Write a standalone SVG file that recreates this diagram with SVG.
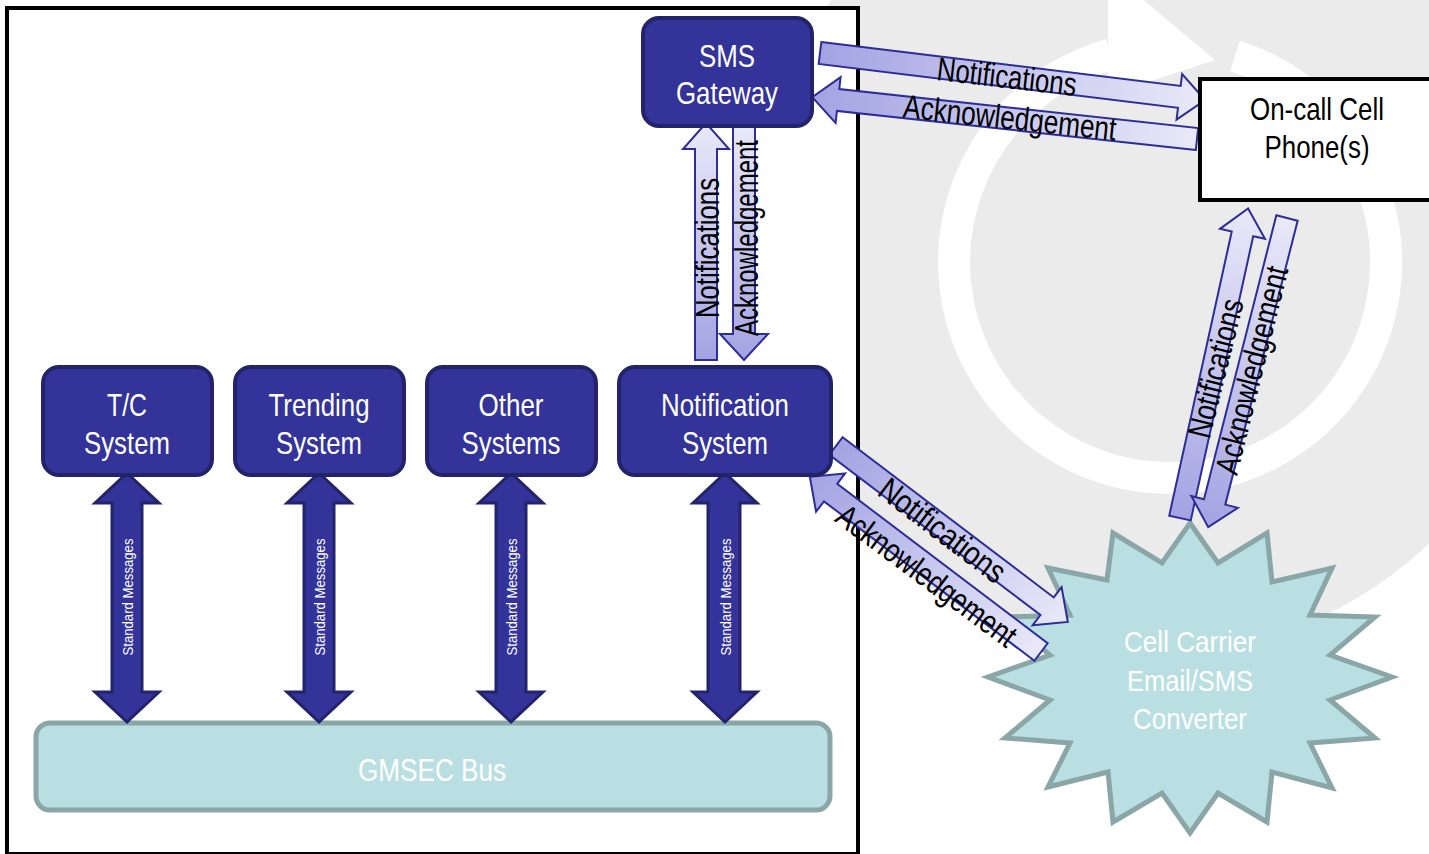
<svg xmlns="http://www.w3.org/2000/svg" width="1429" height="854" viewBox="0 0 1429 854">
<defs>
<style>
.node rect{fill:#333399;stroke:#23236a;stroke-width:4}
.t{font-family:"Liberation Sans Narrow","Liberation Sans",Arial,sans-serif;text-anchor:middle}
.nt{font-size:32px;fill:#ffffff}
.lab{font-size:33px;fill:#000000}
.sm{font-size:15px;fill:#ffffff}
.std{fill:#333399;stroke:#23236a;stroke-width:3}
.la{stroke:#2d2d96;stroke-width:2;stroke-linejoin:miter}
.ln{fill:url(#gN)}
.lk{fill:url(#gA)}
</style>
<linearGradient id="gN" x1="0" y1="0" x2="1" y2="0"><stop offset="0" stop-color="#a3a3e3"/><stop offset="1" stop-color="#e9e9f9"/></linearGradient>
<linearGradient id="gA" x1="0" y1="0" x2="1" y2="0"><stop offset="0" stop-color="#e9e9f9"/><stop offset="1" stop-color="#a3a3e3"/></linearGradient>
</defs>
<rect x="0" y="0" width="1429" height="854" fill="#ffffff"/>
<g id="background">
<circle cx="1150" cy="250" r="405" fill="#ebebeb"/>
<path d="M 1235 56 A 216 216 0 1 1 1110.5 54.4" fill="none" stroke="#ffffff" stroke-width="32"/>
<polygon points="1108,-30 1215,60 1108,95" fill="#ffffff"/>
</g>
<rect id="panel" x="7" y="8" width="851" height="846" fill="#ffffff" stroke="#000000" stroke-width="4"/>

<g id="gmsec-bus">
<rect x="36" y="723" width="794" height="87" rx="14" fill="#b9dfe2" stroke="#8aa6a6" stroke-width="5"/>
<text class="t nt" x="432" y="781" textLength="148" lengthAdjust="spacingAndGlyphs">GMSEC Bus</text>
</g>

<g id="cell-carrier">
<polygon points="1190,523 1218,563 1267,533 1272,582 1332,568 1310,615 1375,617 1330,655 1392,677 1330,700 1375,738 1310,743 1332,788 1272,772 1267,822 1218,793 1190,833 1162,793 1113,822 1108,772 1048,787 1070,743 1005,738 1050,700 988,677 1050,655 1005,617 1070,615 1048,568 1107,580 1113,533 1162,563" fill="#b9dfe2" stroke="#8aa6a6" stroke-width="5" stroke-linejoin="miter"/>
<text class="t" x="1190" y="652" font-size="30" fill="#ffffff" textLength="132" lengthAdjust="spacingAndGlyphs">Cell Carrier</text>
<text class="t" x="1190" y="691" font-size="30" fill="#ffffff" textLength="126" lengthAdjust="spacingAndGlyphs">Email/SMS</text>
<text class="t" x="1190" y="729" font-size="30" fill="#ffffff" textLength="114" lengthAdjust="spacingAndGlyphs">Converter</text>
</g>

<g id="connectors">
<g id="std-arrows">
<polygon class="std" points="127,473 159,503 142,503 142,692 159,692 127,722 95,692 112,692 112,503 95,503"/>
<polygon class="std" points="319,473 351,503 334,503 334,692 351,692 319,722 287,692 304,692 304,503 287,503"/>
<polygon class="std" points="511,473 543,503 526,503 526,692 543,692 511,722 479,692 496,692 496,503 479,503"/>
<polygon class="std" points="725,473 757,503 740,503 740,692 757,692 725,722 693,692 708,692 708,503 693,503"/>
<text class="t sm" transform="translate(128,597) rotate(-90)" y="5" textLength="117" lengthAdjust="spacingAndGlyphs">Standard Messages</text>
<text class="t sm" transform="translate(320,597) rotate(-90)" y="5" textLength="117" lengthAdjust="spacingAndGlyphs">Standard Messages</text>
<text class="t sm" transform="translate(512,597) rotate(-90)" y="5" textLength="117" lengthAdjust="spacingAndGlyphs">Standard Messages</text>
<text class="t sm" transform="translate(726,597) rotate(-90)" y="5" textLength="117" lengthAdjust="spacingAndGlyphs">Standard Messages</text>
</g>
<g id="sms-vertical">
<polygon class="la ln" transform="translate(706,360) rotate(-90)" points="0,-11 211,-11 211,-23 237,0 211,23 211,11 0,11"/>
<polygon class="la lk" transform="translate(744,125) rotate(90)" points="0,-11 209,-11 209,-24 235,0 209,24 209,11 0,11"/>
<text class="t lab" transform="translate(707,248) rotate(-90)" y="12" textLength="140" lengthAdjust="spacingAndGlyphs">Notifications</text>
<text class="t lab" transform="translate(746,238) rotate(-90)" y="12" textLength="196" lengthAdjust="spacingAndGlyphs">Acknowledgement</text>
</g>
<g id="sms-phone">
<polygon class="la ln" transform="translate(820,53) rotate(6.96)" points="0,-11 362,-11 362,-23 388,0 362,23 362,11 0,11"/>
<polygon class="la lk" transform="translate(1197,139) rotate(186.2)" points="0,-11 361,-11 361,-23 387,0 361,23 361,11 0,11"/>
<text class="t lab" transform="translate(1007,76) rotate(6.5)" y="12" textLength="140" lengthAdjust="spacingAndGlyphs">Notifications</text>
<text class="t lab" transform="translate(1010,117) rotate(6.2)" y="12" textLength="214" lengthAdjust="spacingAndGlyphs">Acknowledgement</text>
</g>
<g id="notif-carrier">
<polygon class="la ln" transform="translate(836,446) rotate(37.2)" points="0,-11 265,-11 265,-24 291,0 265,24 265,11 0,11"/>
<polygon class="la lk" transform="translate(1041,652) rotate(217.15)" points="0,-11 264,-11 264,-24 290,0 264,24 264,11 0,11"/>
<text class="t lab" transform="translate(943,530) rotate(37.2)" y="12" textLength="150" lengthAdjust="spacingAndGlyphs">Notifications</text>
<text class="t lab" transform="translate(927,575) rotate(36.5)" y="12" textLength="215" lengthAdjust="spacingAndGlyphs">Acknowledgement</text>
</g>
<g id="carrier-phone">
<polygon class="la ln" transform="translate(1180,518) rotate(-77.6)" points="0,-11 291,-11 291,-23 317,0 291,23 291,11 0,11"/>
<polygon class="la lk" transform="translate(1287,218) rotate(104.3)" points="0,-11 293,-11 293,-24 319,0 293,24 293,11 0,11"/>
<text class="t lab" transform="translate(1215,368) rotate(-76)" y="12" textLength="142" lengthAdjust="spacingAndGlyphs">Notifications</text>
<text class="t lab" transform="translate(1251,370) rotate(-76)" y="12" textLength="213" lengthAdjust="spacingAndGlyphs">Acknowledgement</text>
</g>
</g>

<g id="tc-system" class="node">
<rect x="43" y="367" width="169" height="108" rx="16"/>
<text class="t nt" x="127" y="416" textLength="40" lengthAdjust="spacingAndGlyphs">T/C</text>
<text class="t nt" x="127" y="454" textLength="86" lengthAdjust="spacingAndGlyphs">System</text>
</g>
<g id="trending-system" class="node">
<rect x="235" y="367" width="169" height="108" rx="16"/>
<text class="t nt" x="319" y="416" textLength="101" lengthAdjust="spacingAndGlyphs">Trending</text>
<text class="t nt" x="319" y="454" textLength="86" lengthAdjust="spacingAndGlyphs">System</text>
</g>
<g id="other-systems" class="node">
<rect x="427" y="367" width="169" height="108" rx="16"/>
<text class="t nt" x="511" y="416" textLength="65" lengthAdjust="spacingAndGlyphs">Other</text>
<text class="t nt" x="511" y="454" textLength="99" lengthAdjust="spacingAndGlyphs">Systems</text>
</g>
<g id="notification-system" class="node">
<rect x="619" y="367" width="212" height="108" rx="16"/>
<text class="t nt" x="725" y="416" textLength="128" lengthAdjust="spacingAndGlyphs">Notification</text>
<text class="t nt" x="725" y="454" textLength="86" lengthAdjust="spacingAndGlyphs">System</text>
</g>
<g id="sms-gateway" class="node">
<rect x="643" y="18" width="169" height="108" rx="16"/>
<text class="t nt" x="727" y="67" textLength="56" lengthAdjust="spacingAndGlyphs">SMS</text>
<text class="t nt" x="727" y="104" textLength="102" lengthAdjust="spacingAndGlyphs">Gateway</text>
</g>
<g id="cell-phone">
<rect x="1200" y="79" width="240" height="121" fill="#ffffff" stroke="#000000" stroke-width="4"/>
<text class="t" x="1317" y="120" font-size="32" fill="#000000" textLength="134" lengthAdjust="spacingAndGlyphs">On-call Cell</text>
<text class="t" x="1317" y="158" font-size="32" fill="#000000" textLength="105" lengthAdjust="spacingAndGlyphs">Phone(s)</text>
</g>
</svg>
